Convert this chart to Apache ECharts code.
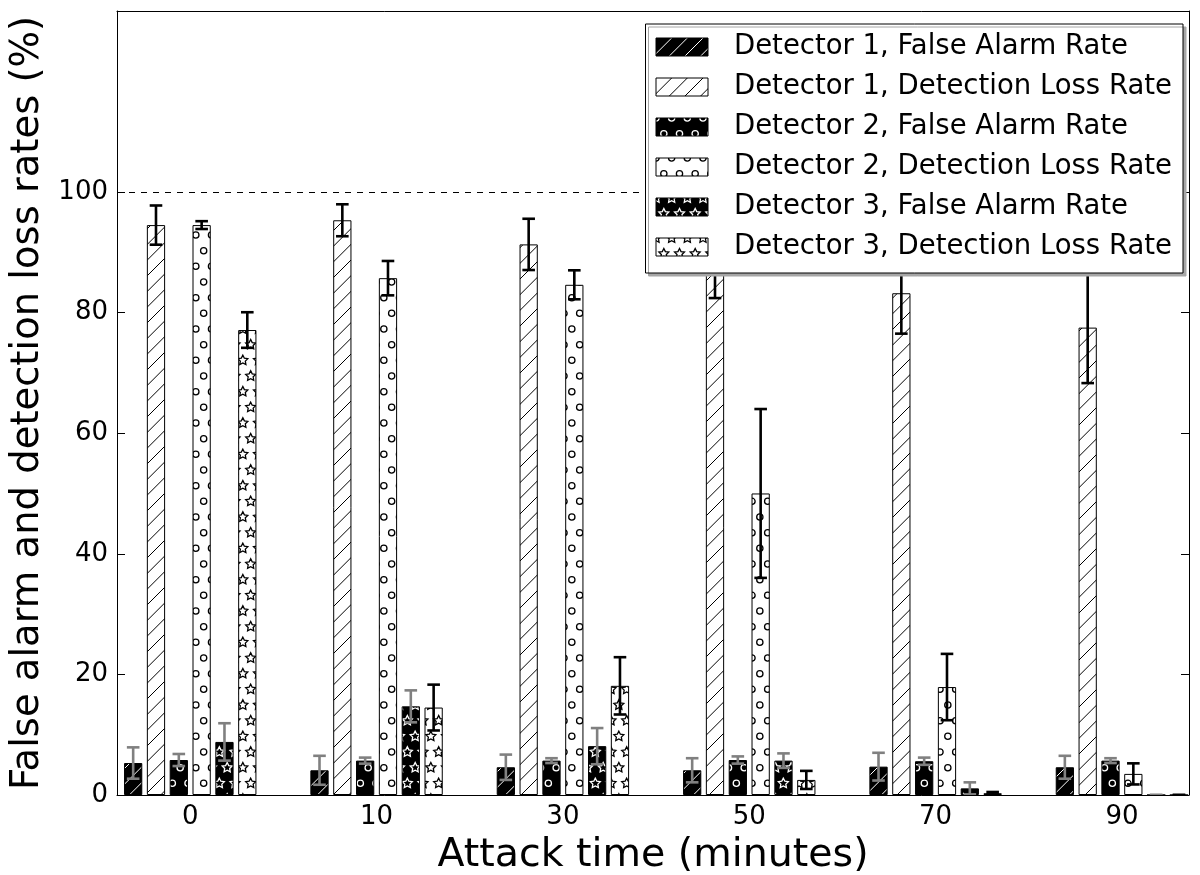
<!DOCTYPE html>
<html>
<head>
<meta charset="utf-8">
<script src="https://cdn.jsdelivr.net/npm/echarts@6/dist/echarts.min.js"></script>
<style>
  html, body { margin: 0; padding: 0; background: #ffffff; }
  #chart { width: 1200px; height: 875px; }
</style>
</head>
<body>
<div id="chart"></div>
<script>
// Attack-time groups on the x axis
const attackTimes = ['0', '10', '30', '50', '70', '90'];

const seriesNames = [
  'Detector 1, False Alarm Rate',
  'Detector 1, Detection Loss Rate',
  'Detector 2, False Alarm Rate',
  'Detector 2, Detection Loss Rate',
  'Detector 3, False Alarm Rate',
  'Detector 3, Detection Loss Rate'
];

// Mean rates (%) and their error half-widths, one entry per attack time
const d1FalseAlarm          = [5.3, 4.1, 4.6, 4.1, 4.7, 4.6];
const d1FalseAlarmErr       = [2.6, 2.4, 2.1, 2.0, 2.3, 1.9];
const d1DetectionLoss       = [94.5, 95.3, 91.3, 88.6, 83.2, 77.5];
const d1DetectionLossErr    = [3.25, 2.65, 4.25, 6.2, 6.7, 9.2];
const d2FalseAlarm          = [5.8, 5.7, 5.7, 5.8, 5.6, 5.7];
const d2FalseAlarmErr       = [1.0, 0.5, 0.4, 0.6, 0.6, 0.4];
const d2DetectionLoss       = [94.5, 85.7, 84.6, 50.0, 17.9, 3.5];
const d2DetectionLossErr    = [0.65, 2.85, 2.4, 14.0, 5.5, 1.75];
const d3FalseAlarm          = [8.8, 14.7, 8.1, 5.7, 1.1, 0];
const d3FalseAlarmErr       = [3.1, 2.65, 3.0, 1.2, 1.0, 0];
const d3DetectionLoss       = [77.1, 14.5, 18.1, 2.5, 0.3, 0];
const d3DetectionLossErr    = [2.95, 3.8, 4.75, 1.5, 0.2, 0];

const yTicks = [0, 20, 40, 60, 80, 100];
const referenceLevel = 100;

const FONT = '"DejaVu Sans", "Liberation Sans", sans-serif';

// ---- hatch fills (lines, small circles, stars) built as repeating canvas tiles ----
const PERIOD = 47 / 3;

function makeTile(w, h, bg, draw) {
  const c = document.createElement('canvas');
  c.width = w; c.height = h;
  const ctx = c.getContext('2d');
  ctx.fillStyle = bg;
  ctx.fillRect(0, 0, w, h);
  draw(ctx);
  return c;
}

function lineHatch(bg, fg) {
  return makeTile(47, 47, bg, function (ctx) {
    ctx.strokeStyle = fg;
    ctx.lineWidth = 1;
    for (let k = -1; k <= 7; k++) {
      const c = k * PERIOD;
      ctx.beginPath();
      ctx.moveTo(-2, c + 2);
      ctx.lineTo(49, c - 49);
      ctx.stroke();
    }
  });
}

function shapeHatch(bg, fg, drawShape) {
  return makeTile(47, 94, bg, function (ctx) {
    ctx.strokeStyle = fg;
    ctx.lineWidth = 1.3;
    for (let r = -1; r <= 7; r++) {
      const y = r * PERIOD;
      const shift = (Math.abs(r) % 2 === 1) ? PERIOD / 2 : 0;
      for (let k = -1; k <= 4; k++) {
        drawShape(ctx, k * PERIOD + shift, y);
      }
    }
  });
}

function circle(ctx, x, y) {
  ctx.beginPath();
  ctx.arc(x, y, PERIOD * 0.2, 0, Math.PI * 2);
  ctx.stroke();
}

function star(ctx, x, y) {
  const ro = PERIOD / 3, ri = ro / 2;
  ctx.beginPath();
  for (let i = 0; i < 10; i++) {
    const a = Math.PI / 2 + i * Math.PI / 5;
    const r = i % 2 === 0 ? ro : ri;
    const px = x + r * Math.cos(a), py = y - r * Math.sin(a);
    if (i === 0) ctx.moveTo(px, py); else ctx.lineTo(px, py);
  }
  ctx.closePath();
  ctx.stroke();
}

function pattern(canvas) { return { image: canvas, repeat: 'repeat' }; }

const fills = [
  pattern(lineHatch('#000000', '#ffffff')),
  pattern(lineHatch('#ffffff', '#000000')),
  pattern(shapeHatch('#000000', '#ffffff', circle)),
  pattern(shapeHatch('#ffffff', '#000000', circle)),
  pattern(shapeHatch('#000000', '#ffffff', star)),
  pattern(shapeHatch('#ffffff', '#000000', star))
];

const means = [d1FalseAlarm, d1DetectionLoss, d2FalseAlarm, d2DetectionLoss, d3FalseAlarm, d3DetectionLoss];
const errs  = [d1FalseAlarmErr, d1DetectionLossErr, d2FalseAlarmErr, d2DetectionLossErr, d3FalseAlarmErr, d3DetectionLossErr];
const errColors = ['#808080', '#000000', '#808080', '#000000', '#808080', '#000000'];

const BAR_WIDTH_FRAC = 0.098;
const BAR_GAP_FRAC = 0.25;

const barSeries = seriesNames.map(function (name, s) {
  const out = {
    type: 'bar',
    name: name,
    data: means[s].map(function (v, i) { return [i, v]; }),
    barWidth: (BAR_WIDTH_FRAC * 100) + '%',
    barGap: (BAR_GAP_FRAC * 100) + '%',
    itemStyle: { color: fills[s], borderColor: '#000000', borderWidth: 1 },
    emphasis: { disabled: true },
    z: 2
  };
  if (s === 0) {
    out.markLine = {
      silent: true,
      symbol: 'none',
      label: { show: false },
      lineStyle: { color: '#000000', width: 1, type: [6, 6] },
      data: [{ yAxis: referenceLevel }]
    };
  }
  return out;
});

// error bar records: [group, seriesIndex, mean, halfWidth]
const errorData = [];
means.forEach(function (arr, s) {
  arr.forEach(function (v, i) { errorData.push([i, s, v, errs[s][i]]); });
});

const errorSeries = {
  type: 'custom',
  name: 'errors',
  data: errorData,
  encode: { x: 0, y: 2 },
  clip: true,
  z: 3,
  silent: true,
  renderItem: function (params, api) {
    const g = api.value(0), s = api.value(1), v = api.value(2), e = api.value(3);
    const unit = api.size([1, 0])[0];
    const bw = unit * BAR_WIDTH_FRAC;
    const pitch = bw * (1 + BAR_GAP_FRAC);
    const cx = api.coord([g, v])[0] + (s - 2.5) * pitch;
    const yTop = api.coord([g, v + e])[1];
    const yBot = api.coord([g, v - e])[1];
    const half = 6.3;
    const st = { stroke: errColors[s], lineWidth: 2.6 };
    return {
      type: 'group',
      children: [
        { type: 'line', shape: { x1: cx, y1: yTop, x2: cx, y2: yBot }, style: st },
        { type: 'line', shape: { x1: cx - half, y1: yTop, x2: cx + half, y2: yTop }, style: st },
        { type: 'line', shape: { x1: cx - half, y1: yBot, x2: cx + half, y2: yBot }, style: st }
      ]
    };
  }
};

const axisLineStyle = { show: true, onZero: false, lineStyle: { color: '#000000', width: 1 } };

const chart = echarts.init(document.getElementById('chart'), null, { renderer: 'canvas' });
chart.setOption({
  animation: false,
  backgroundColor: '#ffffff',
  textStyle: { fontFamily: FONT },
  grid: { left: 117, right: 11, top: 11, bottom: 80, containLabel: false, outerBoundsMode: 'none' },
  legend: {
    show: true,
    orient: 'vertical',
    align: 'left',
    right: 17,
    top: 24,
    icon: 'rect',
    itemWidth: 52,
    itemHeight: 18,
    itemGap: 12,
    padding: [9, 11, 12, 10],
    backgroundColor: '#ffffff',
    borderColor: '#000000',
    borderWidth: 1,
    borderRadius: 0,
    shadowColor: '#a6a6a6',
    shadowBlur: 0,
    shadowOffsetX: 3,
    shadowOffsetY: 3,
    selectedMode: false,
    z: 10,
    textStyle: { fontFamily: FONT, fontSize: 27.5, color: '#000000', lineHeight: 28, padding: [0, 0, 0, 21] },
    data: seriesNames.map(function (name, s) {
      return { name: name, itemStyle: { color: fills[s], borderColor: '#000000', borderWidth: 1 } };
    })
  },
  xAxis: [
    {
      type: 'value',
      position: 'bottom',
      min: -0.393,
      max: 5.36,
      axisLine: axisLineStyle,
      axisTick: { show: false },
      splitLine: { show: false },
      axisLabel: {
        customValues: [0, 1, 2, 3, 4, 5],
        formatter: function (v) { return attackTimes[Math.round(v)]; },
        fontFamily: FONT, fontSize: 26, color: '#000000', margin: 9
      },
      name: 'Attack time (minutes)',
      nameLocation: 'middle',
      nameGap: 41,
      nameTextStyle: { fontFamily: FONT, fontSize: 39.5, color: '#000000' }
    },
    {
      type: 'value',
      position: 'top',
      min: -0.393,
      max: 5.36,
      axisLine: axisLineStyle,
      axisTick: { show: false },
      splitLine: { show: false },
      axisLabel: { show: false }
    }
  ],
  yAxis: [
    {
      type: 'value',
      position: 'left',
      min: 0,
      max: 130,
      axisLine: axisLineStyle,
      axisTick: { show: true, inside: true, length: 8, customValues: yTicks, lineStyle: { color: '#000000', width: 1 } },
      splitLine: { show: false },
      axisLabel: { customValues: yTicks, fontFamily: FONT, fontSize: 26, color: '#000000', margin: 9 },
      name: 'False alarm and detection loss rates (%)',
      nameLocation: 'middle',
      nameRotate: 90,
      nameGap: 62,
      nameTextStyle: { fontFamily: FONT, fontSize: 38.5, color: '#000000' }
    },
    {
      type: 'value',
      position: 'right',
      min: 0,
      max: 130,
      axisLine: axisLineStyle,
      axisTick: { show: true, inside: true, length: 8, customValues: yTicks, lineStyle: { color: '#000000', width: 1 } },
      splitLine: { show: false },
      axisLabel: { show: false }
    }
  ],
  series: barSeries.concat([errorSeries])
});
</script>
</body>
</html>
